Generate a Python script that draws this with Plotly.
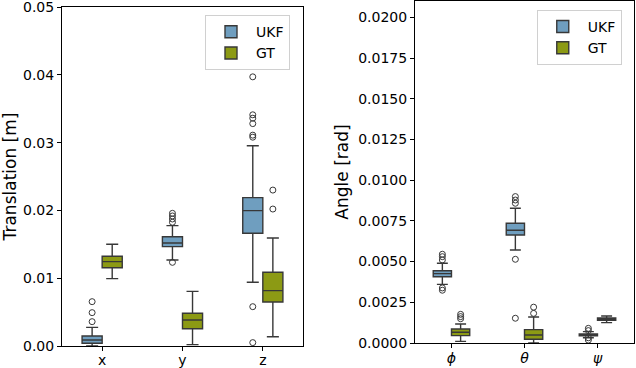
import plotly.graph_objects as go

# Box statistics (one value per category)
trans_labels = ['x', 'y', 'z']
trans_ticks = [0.0, 0.01, 0.02, 0.03, 0.04, 0.05]
trans_ukf_q1 = [0.0004, 0.01465, 0.01662]
trans_ukf_median = [0.00088, 0.01519, 0.01996]
trans_ukf_q3 = [0.00147, 0.01612, 0.02188]
trans_ukf_low = [0.0, 0.01269, 0.0094]
trans_ukf_high = [0.00275, 0.01775, 0.02954]
trans_ukf_outliers = [
    [0.00654, 0.00492, 0.00359],
    [0.01234, 0.01957, 0.01918, 0.01873, 0.01825],
    [0.0397, 0.0341, 0.0336, 0.0328, 0.0311, 0.0308, 0.0058, 0.0005],
]

trans_gt_q1 = [0.01155, 0.00255, 0.00649]
trans_gt_median = [0.01244, 0.00384, 0.00816]
trans_gt_q3 = [0.01323, 0.00482, 0.01087]
trans_gt_low = [0.00993, 0.0002, 0.00137]
trans_gt_high = [0.0150, 0.00806, 0.01593]
trans_gt_outliers = [[], [], [0.0230, 0.0202]]

angle_labels = ['<i>ϕ</i>', '<i>θ</i>', '<i>ψ</i>']
angle_ticks = [0.0, 0.0025, 0.005, 0.0075, 0.01, 0.0125, 0.015, 0.0175, 0.02]
angle_ukf_q1 = [0.00407, 0.00663, 0.00044]
angle_ukf_median = [0.00426, 0.00692, 0.0005]
angle_ukf_q3 = [0.00444, 0.00735, 0.00056]
angle_ukf_low = [0.0036, 0.00571, 0.00032]
angle_ukf_high = [0.0049, 0.00827, 0.0007]
angle_ukf_outliers = [
    [0.00545, 0.0053, 0.0051, 0.00338, 0.00324],
    [0.00899, 0.00878, 0.00858, 0.00514, 0.00152],
    [0.0009, 0.00076, 0.00032, 0.00018],
]

angle_gt_q1 = [0.00045, 0.00023, 0.00139]
angle_gt_median = [0.00066, 0.00049, 0.00147]
angle_gt_q3 = [0.00086, 0.00082, 0.00154]
angle_gt_low = [0.0001, 0.0, 0.00125]
angle_gt_high = [0.00117, 0.0016, 0.00166]
angle_gt_outliers = [[0.00176, 0.00162, 0.00149], [0.0022, 0.00182], []]

UKF_COLOR = '#6f9ebf'
GT_COLOR = '#8c9a14'
LINE_COLOR = '#383838'
BOX_W = 0.25


def add_boxes(fig, name, color, shift, q1, med, q3, low, high, outliers, xaxis, yaxis, legend):
    pos = [i + shift for i in range(len(q1))]
    fig.add_trace(go.Box(
        x=pos, q1=q1, median=med, q3=q3, lowerfence=low, upperfence=high,
        name=name, width=BOX_W, whiskerwidth=0.6,
        fillcolor=color, line=dict(color=LINE_COLOR, width=1.4),
        boxpoints=False, xaxis=xaxis, yaxis=yaxis, legend=legend,
    ))
    # outliers as open circles
    ox, oy = [], []
    for i, vals in enumerate(outliers):
        ox += [i + shift] * len(vals)
        oy += vals
    fig.add_trace(go.Scatter(
        x=ox, y=oy, mode='markers', showlegend=False, hoverinfo='skip',
        marker=dict(symbol='circle-open', size=6, color=LINE_COLOR, line=dict(width=1)),
        xaxis=xaxis, yaxis=yaxis,
    ))


fig = go.Figure()
add_boxes(fig, 'UKF', UKF_COLOR, -0.125, trans_ukf_q1, trans_ukf_median, trans_ukf_q3,
          trans_ukf_low, trans_ukf_high, trans_ukf_outliers, 'x', 'y', 'legend')
add_boxes(fig, 'GT', GT_COLOR, 0.125, trans_gt_q1, trans_gt_median, trans_gt_q3,
          trans_gt_low, trans_gt_high, trans_gt_outliers, 'x', 'y', 'legend')
add_boxes(fig, 'UKF', UKF_COLOR, -0.125, angle_ukf_q1, angle_ukf_median, angle_ukf_q3,
          angle_ukf_low, angle_ukf_high, angle_ukf_outliers, 'x2', 'y2', 'legend2')
add_boxes(fig, 'GT', GT_COLOR, 0.125, angle_gt_q1, angle_gt_median, angle_gt_q3,
          angle_gt_low, angle_gt_high, angle_gt_outliers, 'x2', 'y2', 'legend2')

axis_style = dict(showline=True, mirror=True, linecolor='black', linewidth=1,
                  ticks='outside', ticklen=4, tickcolor='black', showgrid=False,
                  zeroline=False, ticklabeloverflow='allow', automargin=False)

legend_style = dict(bgcolor='white', bordercolor='#d0d0d0', borderwidth=1,
                    xanchor='left', yanchor='top', font=dict(size=14),
                    tracegroupgap=6, itemwidth=40)

fig.update_layout(
    width=636, height=368,
    margin=dict(l=62, r=2, t=1, b=22),
    plot_bgcolor='white', paper_bgcolor='white',
    font=dict(family='DejaVu Sans', size=14, color='black'),
    boxmode='overlay',
    xaxis=dict(domain=[0, 0.4213], range=[-0.5, 2.5], tickvals=[0, 1, 2],
               ticktext=trans_labels, anchor='y', ticklabelstandoff=-3, **axis_style),
    yaxis=dict(domain=[0, 0.9826], range=[0, 0.05], tickvals=trans_ticks,
               ticktext=[f'{v:.2f}' for v in trans_ticks],
               title=dict(text='Translation [m]', standoff=6), anchor='x', **axis_style),
    xaxis2=dict(domain=[0.6171, 1.0], range=[-0.5, 2.5], tickvals=[0, 1, 2],
                ticktext=angle_labels, anchor='y2', ticklabelstandoff=-2, **axis_style),
    yaxis2=dict(domain=[0.0087, 1.0], range=[0, 0.021], tickvals=angle_ticks,
                ticktext=[f'{v:.4f}' for v in angle_ticks],
                title=dict(text='Angle [rad]', standoff=5), anchor='x2', **axis_style),
    legend=dict(x=0.25, y=0.959, **legend_style),
    legend2=dict(x=0.83, y=0.974, **legend_style),
)

# drop the browser's default body margin so the figure sits at the page origin
fig.write_html('out.html', config={'displayModeBar': False},
               post_script="document.body.style.margin='0';")
